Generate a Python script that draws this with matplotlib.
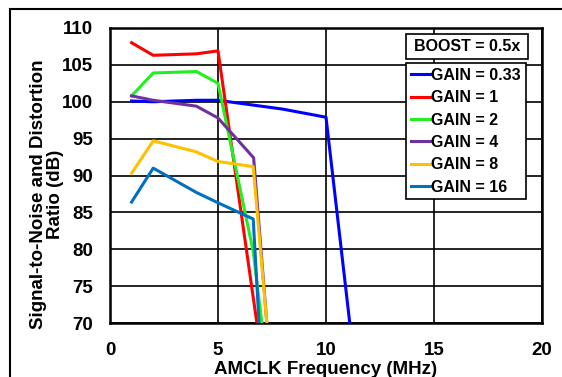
import matplotlib.pyplot as plt
from matplotlib.patches import Rectangle

plt.rcParams['font.family'] = ['Liberation Sans', 'DejaVu Sans']
plt.rcParams['font.weight'] = 'bold'

# AMCLK frequency (MHz) and SINAD (dB)
x_g033 = [1, 2, 4, 5, 8, 10, 11.1]
y_g033 = [100.1, 100.0, 100.2, 100.2, 99.0, 97.9, 70]
x_g1 = [1, 2, 4, 5, 6.8]
y_g1 = [108.0, 106.3, 106.5, 106.9, 70]
x_g2 = [1, 2, 4, 5, 6.63, 7.03]
y_g2 = [100.8, 103.9, 104.1, 102.5, 79.7, 70]
x_g4 = [1, 2, 4, 5, 6.65, 7.26]
y_g4 = [100.8, 100.2, 99.4, 97.8, 92.4, 70]
x_g8 = [1, 2, 4, 5, 6.63, 7.26]
y_g8 = [90.3, 94.7, 93.2, 91.9, 91.2, 70]
x_g16 = [1, 2, 4, 5, 6.63, 6.9]
y_g16 = [86.4, 91.0, 87.7, 86.3, 84.1, 70]

labels = ['GAIN = 0.33', 'GAIN = 1', 'GAIN = 2', 'GAIN = 4', 'GAIN = 8', 'GAIN = 16']
colors = ['#0000FF', '#FF0000', '#22EE22', '#7030A0', '#FFC000', '#0070C0']
series = [(x_g033, y_g033), (x_g1, y_g1), (x_g2, y_g2), (x_g4, y_g4), (x_g8, y_g8), (x_g16, y_g16)]

fig = plt.figure(figsize=(5.62, 3.77), dpi=100)
ax = fig.add_axes([110 / 562, 1 - 323 / 377, 432 / 562, 295 / 377])

# outer frame of the picture
fig.patches.append(Rectangle((10 / 562, -0.1), 1.1, 1 - 9 / 377 + 0.1, transform=fig.transFigure,
                             fill=False, edgecolor='black', linewidth=1.5))

for (xs, ys), c, lab in zip(series, colors, labels):
    ax.plot(xs, ys, color=c, linewidth=2.2, label=lab, zorder=3)

ax.set_xlim(0, 20)
ax.set_ylim(70, 110)
ax.set_xticks([0, 5, 10, 15, 20])
ax.set_yticks(range(70, 111, 5))
ax.grid(True, color='black', linewidth=1.2)
ax.tick_params(axis='x', length=0, labelsize=13.5, pad=14)
ax.tick_params(axis='y', length=0, labelsize=13.5, pad=12)
for s in ax.spines.values():
    s.set_linewidth(1.8)
ax.set_xlabel('AMCLK Frequency (MHz)', fontsize=13.5, fontweight='bold', labelpad=1)
ax.set_ylabel('Signal-to-Noise and Distortion\nRatio (dB)', fontsize=13.5, fontweight='bold',
              linespacing=1.0)
ax.yaxis.set_label_coords(-0.107, 0.437)

leg = ax.legend(loc='upper left', bbox_to_anchor=(0.685, 0.881), borderaxespad=0,
                fancybox=False, edgecolor='black', framealpha=1,
                handlelength=1.2, handletextpad=0.1, labelspacing=0.46, borderpad=0.3,
                prop={'weight': 'bold', 'size': 11.5})
leg.get_frame().set_linewidth(1.2)
leg.set_zorder(5)

ax.add_patch(Rectangle((0.685, 0.895), 0.283, 0.085, transform=ax.transAxes,
                       facecolor='white', edgecolor='black', linewidth=1.2, zorder=5))
ax.text(0.826, 0.937, 'BOOST = 0.5x', transform=ax.transAxes, ha='center', va='center',
        fontsize=11.5, fontweight='bold', zorder=6)

fig.savefig('out.png', dpi=100)
